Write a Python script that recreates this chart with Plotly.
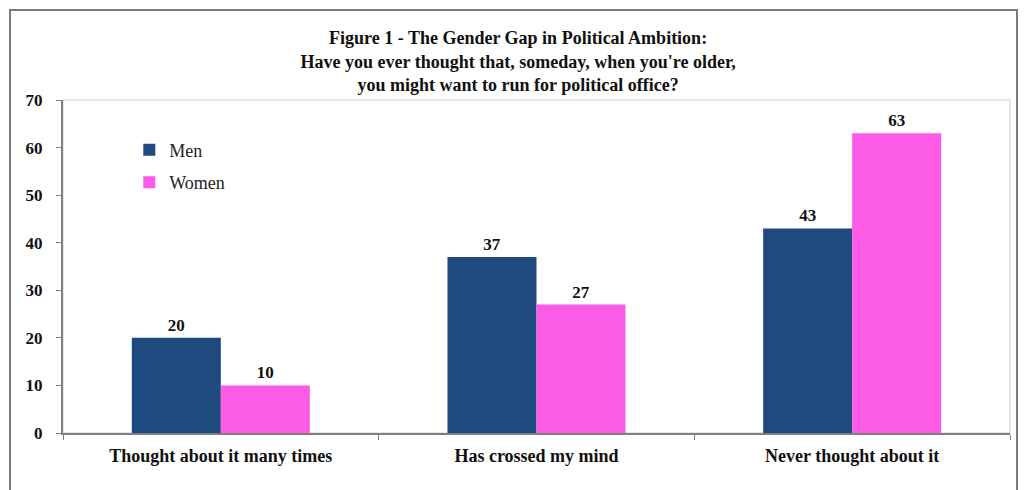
import plotly.graph_objects as go

categories = ["Thought about it many times", "Has crossed my mind", "Never thought about it"]
men = [20, 37, 43]
women = [10, 27, 63]
y_ticks = [0, 10, 20, 30, 40, 50, 60, 70]

SERIF = "Liberation Serif, Times New Roman, serif"

fig = go.Figure()
fig.add_trace(go.Bar(
    name="Men", x=categories, y=men, marker=dict(color="#1F4A7E", line=dict(width=0)),
    text=[str(v) for v in men], textposition="outside", cliponaxis=False,
    texttemplate="<b>%{text}</b>",
    textfont=dict(family=SERIF, size=17, color="#111111"), legendgroup="m",
))
fig.add_trace(go.Bar(
    name="Women", x=categories, y=women, marker=dict(color="#FC5BE6", line=dict(width=0)),
    text=[str(v) for v in women], textposition="outside", cliponaxis=False,
    texttemplate="<b>%{text}</b>",
    textfont=dict(family=SERIF, size=17, color="#111111"), legendgroup="w",
))

fig.update_layout(
    width=1026, height=490,
    margin=dict(l=63, r=16, t=100, b=57),
    paper_bgcolor="white", plot_bgcolor="white",
    barmode="group", bargap=0.436, bargroupgap=0,
    title=dict(
        text="<b>Figure 1 - The Gender Gap in Political Ambition:<br>Have you ever thought that, someday, when you're older,<br>you might want to run for political office?</b>",
        font=dict(family=SERIF, size=18, color="#111111"),
        x=0.505, xanchor="center", y=0.91, yanchor="top",
    ),
    font=dict(family=SERIF, color="#111111"),
    legend=dict(
        x=0.07, y=0.905, xanchor="left", yanchor="top",
        font=dict(family=SERIF, size=18, color="#222222"),
        bgcolor="rgba(0,0,0,0)", tracegroupgap=6, traceorder="grouped",
        itemwidth=30,
    ),
    xaxis=dict(
        showline=True, linecolor="#808080", linewidth=2,
        ticks="outside", tickson="boundaries", ticklen=5, tickcolor="#808080",
        tickfont=dict(family=SERIF, size=18, color="#111111"),
        ticklabelstandoff=5,
        tickvals=categories, ticktext=[f"<b>{c}</b>" for c in categories],
        showgrid=False, zeroline=False,
    ),
    yaxis=dict(
        range=[0, 70], tickvals=y_ticks, ticktext=[f"<b>{v}</b>" for v in y_ticks],
        showline=True, linecolor="#808080", linewidth=2,
        ticks="outside", ticklen=5, tickcolor="#808080",
        tickfont=dict(family=SERIF, size=17, color="#111111"),
        ticklabelstandoff=10,
        showgrid=False, zeroline=False,
    ),
    shapes=[
        dict(type="rect", xref="paper", yref="paper", x0=0, y0=0, x1=1, y1=1,
             line=dict(color="#D0D0D0", width=1), layer="below"),
        dict(type="rect", xref="paper", yref="paper",
             x0=(10 - 63) / 947, x1=(1017 - 63) / 947,
             y0=(433 - 500) / 333, y1=(433 - 10) / 333,
             line=dict(color="#7A7A7A", width=2), layer="below"),
    ],
)

fig.write_html("out.html")
